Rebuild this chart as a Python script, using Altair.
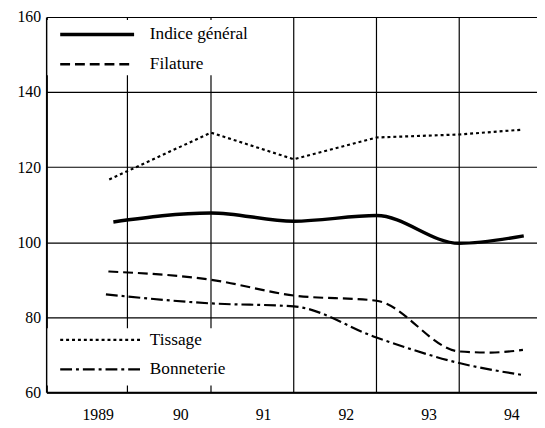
import altair as alt
import pandas as pd

# ---- data ----
tick_years = [1989, 1990, 1991, 1992, 1993, 1994]
y_ticks = [60, 80, 100, 120, 140, 160]
grid_x = [1989.36, 1990.37, 1991.37, 1992.37, 1993.37]

indice_x = [1989.19, 1990.37, 1991.37, 1992.37, 1993.37, 1994.15]
indice_y = [105.4, 107.8, 105.6, 107.1, 99.7, 101.7]

filature_x = [1989.13, 1990.37, 1991.37, 1992.37, 1993.37, 1993.75, 1994.14]
filature_y = [92.2, 90.0, 85.8, 84.4, 70.9, 70.6, 71.3]

tissage_x = [1989.14, 1990.37, 1991.37, 1992.37, 1993.37, 1994.14]
tissage_y = [116.7, 129.2, 122.1, 127.9, 128.7, 130.0]

bonneterie_x = [1989.10, 1990.37, 1991.37, 1992.37, 1993.37, 1994.14]
bonneterie_y = [86.1, 83.7, 82.9, 74.6, 67.8, 64.6]

FONT = "Liberation Serif"
W, H = 498, 381

xscale = alt.Scale(domain=[1988.381, 1994.31], nice=False, zero=False)
yscale = alt.Scale(domain=[60, 160], nice=False, zero=False)


def df(xs, ys):
    return pd.DataFrame({"x": xs, "y": ys})


base_axes = alt.Chart(pd.DataFrame({"gx": grid_x})).mark_rule(
    color="black", strokeWidth=1.2
).encode(
    x=alt.X(
        "gx:Q",
        scale=xscale,
        title=None,
        axis=alt.Axis(
            values=tick_years,
            format="d",
            labelExpr="datum.value == 1989 ? datum.label : substring(datum.label, 2)",
            grid=False,
            ticks=False,
            domain=True,
            domainColor="black",
            domainWidth=2,
            labelFont=FONT,
            labelFontSize=16,
            labelColor="black",
            labelPadding=15,
        ),
    ),
)

# y axis carried by an invisible layer
yaxis_layer = alt.Chart(pd.DataFrame({"v": y_ticks})).mark_point(opacity=0).encode(
    y=alt.Y(
        "v:Q",
        scale=yscale,
        title=None,
        axis=alt.Axis(
            values=y_ticks,
            grid=True,
            gridColor="black",
            gridWidth=1.2,
            gridOpacity=1,
            ticks=False,
            domain=True,
            domainColor="black",
            domainWidth=2,
            labelFont=FONT,
            labelFontSize=16,
            labelColor="black",
            labelPadding=6,
        ),
    ),
)

# white legend boxes (cover vertical grid lines like the original)
one = pd.DataFrame({"k": [0]})
box_top = alt.Chart(one).mark_rect(color="white").encode(
    x=alt.value(1), x2=alt.value(208), y=alt.value(3), y2=alt.value(59)
)
box_bot = alt.Chart(one).mark_rect(color="white").encode(
    x=alt.value(1), x2=alt.value(208), y=alt.value(316), y2=alt.value(374)
)


def series(xs, ys, **kw):
    return alt.Chart(df(xs, ys)).mark_line(color="black", **kw).encode(
        x=alt.X("x:Q", scale=xscale),
        y=alt.Y("y:Q", scale=yscale),
    )


l_indice = series(indice_x, indice_y, strokeWidth=3.5, interpolate="monotone")
l_filature = series(filature_x, filature_y, strokeWidth=2.2, strokeDash=[10, 5], interpolate="monotone")
l_tissage = series(tissage_x, tissage_y, strokeWidth=2.2, strokeDash=[3, 3])
l_bonneterie = series(bonneterie_x, bonneterie_y, strokeWidth=2.2, strokeDash=[12, 4, 3, 4], interpolate="monotone")

legend_items = [
    ("Indice général", 17.7, 14, 89, {"strokeWidth": 3.5}),
    ("Filature", 48, 14, 89, {"strokeWidth": 2.5, "strokeDash": [10, 5]}),
    ("Tissage", 327.7, 14, 95, {"strokeWidth": 2.2, "strokeDash": [3, 3]}),
    ("Bonneterie", 357.7, 14, 95, {"strokeWidth": 2.5, "strokeDash": [12, 4, 3, 4]}),
]

legend_layers = []
for name, ly, lx1, lx2, style in legend_items:
    d = pd.DataFrame({"label": [name]})
    legend_layers.append(
        alt.Chart(d).mark_rule(color="black", **style).encode(
            x=alt.value(lx1), x2=alt.value(lx2), y=alt.value(ly)
        )
    )
    legend_layers.append(
        alt.Chart(d).mark_text(
            font=FONT, fontSize=17.5, align="left", baseline="middle", color="black"
        ).encode(x=alt.value(105), y=alt.value(ly), text="label:N")
    )

chart = alt.layer(
    yaxis_layer,
    base_axes,
    box_top,
    box_bot,
    l_tissage,
    l_indice,
    l_filature,
    l_bonneterie,
    *legend_layers,
).properties(
    width=W,
    height=H,
    autosize=alt.AutoSizeParams(type="none"),
    padding={"left": 39, "top": 6, "right": 0, "bottom": 30},
).configure_view(stroke=None).configure(background="white")

chart.save("out.html", embed_options={"renderer": "svg", "actions": False})
